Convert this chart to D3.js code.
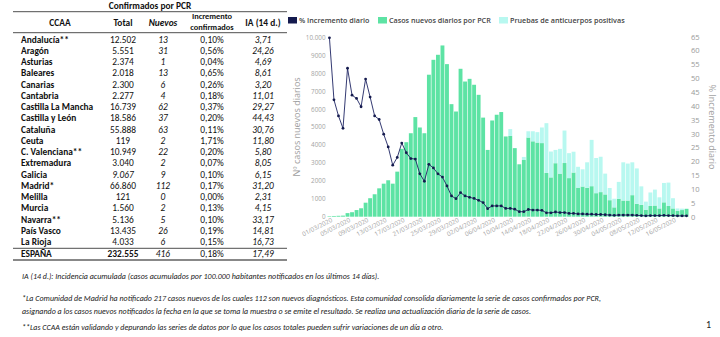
<!DOCTYPE html>
<html>
<head>
<meta charset="utf-8">
<script src="https://cdn.jsdelivr.net/npm/d3@7"></script>
<style>
  body { margin: 0; background: #fff; }
  svg { display: block; }
  .tbl text { font-family: Carlito, "Liberation Sans Narrow", "DejaVu Sans Condensed", sans-serif; fill: #111; font-size: 9.4px; }
  .notes text { font-family: Carlito, "Liberation Sans Narrow", "DejaVu Sans Condensed", sans-serif; fill: #222; font-size: 8px; font-style: italic; }
  .plot text { font-family: "Open Sans", sans-serif; }
</style>
</head>
<body>
<svg id="page" width="720" height="337"></svg>
<script>
// Tabla de comunidades
const ccaa = ["Andalucía**", "Aragón", "Asturias", "Baleares", "Canarias", "Cantabria",
  "Castilla La Mancha", "Castilla y León", "Cataluña", "Ceuta", "C. Valenciana**",
  "Extremadura", "Galicia", "Madrid*", "Melilla", "Murcia", "Navarra**", "País Vasco", "La Rioja"];
const totales = ["12.502", "5.551", "2.374", "2.018", "2.300", "2.277", "16.739", "18.586", "55.888",
  "119", "10.949", "3.040", "9.067", "66.860", "121", "1.560", "5.136", "13.435", "4.033"];
const nuevos = ["13", "31", "1", "13", "6", "4", "62", "37", "63", "2", "22", "2", "9", "112", "0", "2", "5", "26", "6"];
const incremento = ["0,10%", "0,56%", "0,04%", "0,65%", "0,26%", "0,18%", "0,37%", "0,20%", "0,11%",
  "1,71%", "0,20%", "0,07%", "0,10%", "0,17%", "0,00%", "0,13%", "0,10%", "0,19%", "0,15%"];
const ia14 = ["3,71", "24,26", "4,69", "8,61", "3,20", "11,01", "29,27", "44,43", "30,76",
  "11,80", "5,80", "8,05", "6,15", "31,20", "2,31", "4,15", "33,17", "14,81", "16,73"];
const espana = ["ESPAÑA", "232.555", "416", "0,18%", "17,49"];

// Serie diaria desde el 01/03/2020
const dias = d3.timeDay.range(new Date(2020, 2, 1), new Date(2020, 4, 20));
const casosPCR = [30, 40, 50, 60, 200, 250, 370, 470, 780, 1030,
  1250, 1580, 1840, 2030, 1840, 2510, 3780, 4150, 4650, 5550,
  4970, 4650, 7910, 8740, 9020, 9540, 8500, 6270, 5860, 8240,
  7530, 7680, 7350, 6790, 5520, 3720, 5360, 5680, 5830, 4470,
  4500, 3820, 2920, 3160, 4410, 4200, 4130, 4100, 2440, 2190,
  2980, 2400, 2990, 2150, 2460, 1620, 1680, 1610, 1700, 1310,
  1370, 1240, 920, 520, 1000, 900, 900, 1200, 720, 660,
  390, 600, 620, 460, 800, 600, 460, 330, 370, 440];
const anticuerpos = [0, 0, 0, 0, 0, 0, 0, 0, 0, 0,
  0, 0, 0, 0, 0, 0, 0, 0, 0, 0,
  0, 0, 0, 0, 0, 0, 0, 0, 0, 0,
  0, 0, 0, 0, 0, 0, 0, 0, 0, 0,
  380, 0, 0, 170, 350, 560, 580, 870, 2770, 1440,
  740, 1380, 1810, 1390, 1160, 1160, 960, 1420, 2580, 1960,
  1970, 1160, 680, 480, 940, 2130, 2060, 1830, 1970, 1030,
  450, 750, 890, 620, 1080, 1300, 570, 130, 80, 0];
const incrementoDiario = [64.6, 42.2, 36.4, 31.9, 53.6, 43.9, 42.7, 39.7, 49.7, 43.2,
  36.4, 35.1, 29.8, 25.2, 18.6, 21.4, 26.6, 23.1, 21.0, 20.8,
  15.5, 12.8, 18.9, 17.6, 15.5, 14.3, 11.1, 7.5, 6.5, 8.7,
  7.5, 7.0, 6.6, 5.9, 5.1, 2.9, 3.9, 3.9, 3.9, 3.0,
  3.0, 2.7, 1.8, 1.8, 2.6, 2.4, 2.4, 2.3, 1.4, 1.4,
  1.7, 1.5, 1.5, 1.2, 1.2, 1.0, 1.0, 0.9, 0.9, 0.8,
  0.8, 0.7, 0.6, 0.5, 0.6, 0.6, 0.6, 0.6, 0.5, 0.4,
  0.3, 0.4, 0.4, 0.4, 0.5, 0.4, 0.4, 0.3, 0.3, 0.3];

const ticksCasos = [0, 1000, 2000, 3000, 4000, 5000, 6000, 7000, 8000, 9000, 10000];
const ticksPct = [0, 5, 10, 15, 20, 25, 30, 35, 40, 45, 50, 55, 60, 65];

const svg = d3.select("#page");

// ---------- tabla ----------
const tbl = svg.append("g").attr("class", "tbl");
const colX = { ccaa: 21, total: 123, nuevos: 163, incr: 212, ia: 263 };
const rowY = d3.scaleLinear().domain([0, 18]).range([42.7, 245.2]);

tbl.append("text").attr("x", 150).attr("y", 9).attr("text-anchor", "middle")
  .attr("font-weight", "bold").text("Confirmados por PCR");

const head = tbl.append("g").attr("font-weight", "bold").attr("text-anchor", "middle");
head.append("text").attr("x", 60).attr("y", 26).text("CCAA");
head.append("text").attr("x", colX.total).attr("y", 26).text("Total");
head.append("text").attr("x", colX.nuevos).attr("y", 26).attr("font-style", "italic").text("Nuevos");
head.append("text").attr("x", colX.incr).attr("y", 19).style("font-size", "8.4px").text("Incremento");
head.append("text").attr("x", colX.incr).attr("y", 29.5).style("font-size", "8.4px").text("confirmados");
head.append("text").attr("x", colX.ia).attr("y", 26).text("IA (14 d.)");

[[11.7, 0.8, "#222"], [32.7, 0.8, "#222"], [248.3, 0.8, "#222"], [260, 2.2, "#888"]].forEach(([y, w, c]) => {
  tbl.append("line").attr("x1", 13).attr("x2", 287).attr("y1", y).attr("y2", y)
    .attr("stroke", c).attr("stroke-width", w);
});

const filas = tbl.selectAll("g.fila").data(ccaa).join("g").attr("class", "fila")
  .attr("transform", (d, i) => `translate(0,${rowY(i)})`);
filas.append("text").attr("x", colX.ccaa).attr("font-weight", "bold").text(d => d);
filas.append("text").attr("x", colX.total).attr("text-anchor", "middle")
  .attr("font-style", d => d === "Galicia" ? "italic" : null).text((d, i) => totales[i]);
filas.append("text").attr("x", colX.nuevos).attr("text-anchor", "middle").attr("font-style", "italic").text((d, i) => nuevos[i]);
filas.append("text").attr("x", colX.incr).attr("text-anchor", "middle").text((d, i) => incremento[i]);
filas.append("text").attr("x", colX.ia).attr("text-anchor", "middle").attr("font-style", "italic").text((d, i) => ia14[i]);

const tot = tbl.append("g").attr("transform", "translate(0,257.2)");
tot.append("text").attr("x", colX.ccaa).attr("font-weight", "bold").text(espana[0]);
tot.append("text").attr("x", colX.total).attr("text-anchor", "middle").attr("font-weight", "bold").text(espana[1]);
tot.append("text").attr("x", colX.nuevos).attr("text-anchor", "middle").attr("font-style", "italic").text(espana[2]);
tot.append("text").attr("x", colX.incr).attr("text-anchor", "middle").text(espana[3]);
tot.append("text").attr("x", colX.ia).attr("text-anchor", "middle").attr("font-style", "italic").text(espana[4]);

// ---------- gráfico ----------
const plot = svg.append("g").attr("class", "plot");
const x = d3.scaleBand().domain(dias).range([327.5, 688.5]).paddingInner(0.14);
const yCasos = d3.scaleLinear().domain([0, 10000]).range([216.7, 37.2]);
const yPct = d3.scaleLinear().domain([0, 65]).range([216.7, 36.7]);

const serie = dias.map((d, i) => ({ dia: d, pcr: casosPCR[i], ac: anticuerpos[i] }));
const apilado = d3.stack().keys(["pcr", "ac"])(serie);
const colores = { pcr: "#5de3a4", ac: "#b8f8f0" };

plot.selectAll("g.capa").data(apilado).join("g").attr("class", "capa")
  .attr("fill", d => colores[d.key])
  .selectAll("rect").data(d => d).join("rect")
  .attr("x", d => x(d.data.dia))
  .attr("width", x.bandwidth())
  .attr("y", d => yCasos(d[1]))
  .attr("height", d => yCasos(d[0]) - yCasos(d[1]));

const cx = d => x(d) + x.bandwidth() / 2;
plot.append("path").datum(dias)
  .attr("fill", "none").attr("stroke", "#1d2462").attr("stroke-width", 0.9)
  .attr("d", d3.line().x(d => cx(d)).y((d, i) => yPct(incrementoDiario[i])));
plot.append("g").attr("fill", "#141a4e").selectAll("circle").data(dias).join("circle")
  .attr("cx", d => cx(d)).attr("cy", (d, i) => yPct(incrementoDiario[i])).attr("r", 1.4);

// ejes
const fmtCasos = v => v >= 10000 ? "10.000" : String(v);
const ejeIzq = d3.axisLeft(yCasos).tickValues(ticksCasos).tickFormat(fmtCasos).tickSize(0).tickPadding(0);
plot.append("g").attr("transform", "translate(325.5,0)").call(ejeIzq)
  .call(g => g.select(".domain").remove())
  .selectAll("text").attr("fill", "#a3a3a3").attr("font-size", 6.3).attr("font-family", "Open Sans, sans-serif");

const ejeDer = d3.axisRight(yPct).tickValues(ticksPct).tickSize(0).tickPadding(0);
plot.append("g").attr("transform", "translate(691,0)").call(ejeDer)
  .call(g => g.select(".domain").remove())
  .selectAll("text").attr("fill", "#9a9a9a").attr("font-size", 7.6).attr("font-family", "Open Sans, sans-serif");

const fmtDia = d3.timeFormat("%d/%m/%Y");
const ejeX = d3.axisBottom(x).tickValues(dias.filter((d, i) => i % 4 === 0)).tickFormat(fmtDia).tickSize(0).tickPadding(0);
plot.append("g").attr("transform", "translate(0,219)").call(ejeX)
  .call(g => g.select(".domain").remove())
  .selectAll("text")
  .attr("fill", "#a0a0a0").attr("font-size", 6.2).attr("font-family", "Open Sans, sans-serif")
  .attr("text-anchor", "end").attr("dy", "0.6em").attr("dx", "0.3em")
  .attr("transform", "rotate(-27)");

plot.append("text").attr("transform", "translate(300,127) rotate(-90)")
  .attr("text-anchor", "middle").attr("fill", "#a0a0a0").attr("font-size", 9)
  .text("Nº casos nuevos diarios");
plot.append("text").attr("transform", "translate(709,127) rotate(90)")
  .attr("text-anchor", "middle").attr("fill", "#a0a0a0").attr("font-size", 9)
  .text("% Incremento diario");

// leyenda
const leyenda = [
  { txt: "% Incremento diario", color: "#141a4e", x: 288 },
  { txt: "Casos nuevos diarios por PCR", color: colores.pcr, x: 378 },
  { txt: "Pruebas de anticuerpos positivas", color: colores.ac, x: 499 }
];
const ley = plot.append("g").selectAll("g").data(leyenda).join("g")
  .attr("transform", d => `translate(${d.x},17)`);
ley.append("rect").attr("width", 9).attr("height", 6.5).attr("fill", d => d.color);
ley.append("text").attr("x", 11).attr("y", 6).attr("font-size", 7.2).attr("font-weight", 600)
  .attr("fill", "#444").text(d => d.txt);

// ---------- notas ----------
const notas = svg.append("g").attr("class", "notes");
[
  [279, "IA (14 d.): Incidencia acumulada (casos acumulados por 100.000 habitantes notificados en los últimos 14 días)."],
  [300.5, "*La Comunidad de Madrid ha notificado 217 casos nuevos de los cuales 112 son nuevos diagnósticos. Esta comunidad consolida diariamente la serie de casos confirmados por PCR,"],
  [313.5, "asignando a los casos nuevos notificados la fecha en la que se toma la muestra o se emite el resultado. Se realiza una actualización diaria de la serie de casos."],
  [330, "**Las CCAA están validando y depurando las series de datos por lo que los casos totales pueden sufrir variaciones de un día a otro."]
].forEach(([y, t]) => notas.append("text").attr("x", 22).attr("y", y).text(t));

svg.append("text").attr("x", 706).attr("y", 328).attr("font-family", "Carlito, 'Liberation Sans', sans-serif")
  .attr("font-size", 10).attr("fill", "#222").text("1");
</script>
</body>
</html>
